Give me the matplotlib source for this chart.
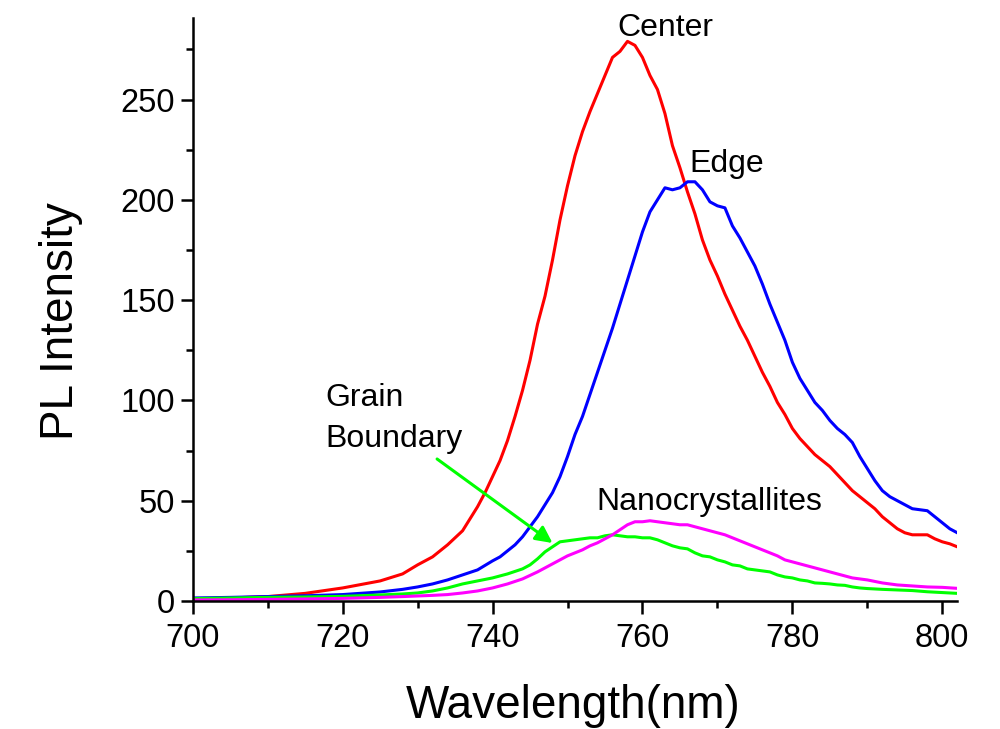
import numpy as np
import matplotlib.pyplot as plt
from matplotlib.ticker import MultipleLocator

plt.rcParams['font.family'] = ['Liberation Sans', 'DejaVu Sans']

# Center (red)
center_nm = [700, 705, 710, 715, 720, 725, 728, 730, 732, 734, 736, 738, 739, 740, 741,
             742, 743, 744, 745, 746, 747, 748, 749, 750, 751, 752, 753, 754, 755, 756,
             757, 758, 759, 760, 761, 762, 763, 764, 765, 766, 767, 768, 769, 770, 771,
             772, 773, 774, 775, 776, 777, 778, 779, 780, 781, 782, 783, 784, 785, 786,
             787, 788, 789, 790, 791, 792, 793, 794, 795, 796, 797, 798, 799, 800, 801, 802]
center_pl = [1, 1.5, 2.2, 3.8, 6.5, 10, 13.5, 18, 22, 28, 35, 47, 54, 62, 70,
             80, 92, 105, 120, 138, 152, 170, 190, 207, 222, 234, 244, 253, 262, 271,
             274, 279, 277, 271, 262, 255, 243, 227, 216, 204, 193, 180, 170, 162, 153,
             145, 137, 130, 122, 114, 107, 99, 93, 86, 81, 77, 73, 70, 67, 63,
             59, 55, 52, 49, 46, 42, 39, 36, 34, 33, 33, 33, 31, 29.5, 28.5, 27]

# Edge (blue)
edge_nm = [700, 705, 710, 715, 720, 725, 728, 730, 732, 734, 736, 738, 740, 741, 742,
           743, 744, 745, 746, 747, 748, 749, 750, 751, 752, 753, 754, 755, 756, 757,
           758, 759, 760, 761, 762, 763, 764, 765, 766, 767, 768, 769, 770, 771, 772,
           773, 774, 775, 776, 777, 778, 779, 780, 781, 782, 783, 784, 785, 786, 787,
           788, 789, 790, 791, 792, 793, 794, 795, 796, 797, 798, 799, 800, 801, 802]
edge_pl = [1.5, 1.8, 2.2, 2.6, 3.2, 4.5, 5.8, 7, 8.5, 10.5, 13, 15.5, 20, 22, 25,
           28, 32, 37, 42, 48, 54, 62, 72, 83, 92, 103, 114, 125, 136, 148,
           160, 172, 184, 194, 200, 206, 205, 206, 209, 209, 205, 199, 197, 196, 187,
           181, 174, 167, 158, 148, 139, 130, 119, 111, 105, 99, 95, 90, 86, 83,
           79, 72, 66, 60, 55, 52, 50, 48, 46, 45.5, 45, 42, 39, 36, 34]

# Grain boundary (green)
grain_nm = [700, 705, 710, 715, 720, 725, 728, 730, 732, 734, 736, 738, 740, 742, 744,
            745, 746, 747, 748, 749, 750, 751, 752, 753, 754, 755, 756, 757, 758, 759,
            760, 761, 762, 763, 764, 765, 766, 767, 768, 769, 770, 771, 772, 773, 774,
            775, 776, 777, 778, 779, 780, 781, 782, 783, 784, 785, 786, 787, 788, 789,
            790, 792, 794, 796, 798, 800, 802]
grain_pl = [1.2, 1.5, 1.8, 2, 2.3, 3, 3.5, 4, 5, 6.5, 8.5, 10, 11.5, 13.5, 16,
            18, 21, 24.5, 27, 29.5, 30, 30.5, 31, 31.5, 31.5, 32.5, 33, 32.5, 32, 32,
            31.5, 31.5, 30.5, 29, 27.5, 26.5, 26, 24, 22.5, 22, 20.5, 19.5, 18, 17.5, 16,
            15.5, 15, 14.5, 13, 12, 11.5, 10.5, 10, 9, 8.8, 8.5, 8, 7.8, 7, 6.5,
            6.2, 5.8, 5.5, 5.2, 4.6, 4.2, 3.8]

# Nanocrystallites (magenta)
nano_nm = [700, 705, 710, 715, 720, 725, 728, 730, 732, 734, 736, 738, 740, 742, 744,
           746, 747, 748, 749, 750, 751, 752, 753, 754, 755, 756, 757, 758, 759, 760,
           761, 762, 763, 764, 765, 766, 767, 768, 769, 770, 771, 772, 773, 774, 775,
           776, 777, 778, 779, 780, 781, 782, 783, 784, 785, 786, 787, 788, 789, 790,
           792, 794, 796, 798, 800, 802]
nano_pl = [0.5, 0.6, 0.8, 1, 1.3, 1.8, 2.2, 2.5, 2.8, 3.2, 4, 5, 6.5, 8.5, 11,
           14.5, 16.5, 18.5, 20.5, 22.5, 24, 25.5, 27.5, 29, 31, 33, 35.5, 38, 39.5, 39.5,
           40, 39.5, 39, 38.5, 38, 38, 37, 36, 35, 34, 33, 31.5, 30, 28.5, 27,
           25.5, 24, 22.5, 20.5, 19.5, 18.5, 17.5, 16.5, 15.5, 14.5, 13.5, 12.5, 11.5, 11, 10.5,
           9, 8, 7.5, 7, 6.8, 6.3]

fig = plt.figure(figsize=(10, 7.29), dpi=100)
ax = fig.add_axes([0.1927, 0.1756, 0.7646, 0.7993])

lw = 2.2
ax.plot(center_nm, center_pl, color='#ff0000', lw=lw)
ax.plot(edge_nm, edge_pl, color='#0000ff', lw=lw)
ax.plot(grain_nm, grain_pl, color='#00ff00', lw=lw)
ax.plot(nano_nm, nano_pl, color='#ff00ff', lw=lw)

ax.set_xlim(700, 802)
ax.set_ylim(0, 290.5)

ax.xaxis.set_major_locator(MultipleLocator(20))
ax.xaxis.set_minor_locator(MultipleLocator(10))
ax.yaxis.set_major_locator(MultipleLocator(50))
ax.yaxis.set_minor_locator(MultipleLocator(25))

for s in ['top', 'right']:
    ax.spines[s].set_visible(False)
for s in ['left', 'bottom']:
    ax.spines[s].set_linewidth(1.8)

ax.tick_params(which='major', direction='out', length=9, width=1.8, labelsize=23.5)
ax.tick_params(which='minor', direction='out', length=5, width=1.8)
ax.tick_params(axis='x', which='major', pad=7)
ax.tick_params(axis='y', which='major', pad=4)

ax.set_xlabel('Wavelength(nm)', fontsize=33)
ax.set_ylabel('PL Intensity', fontsize=33)
ax.xaxis.set_label_coords(0.498, -0.142)
ax.yaxis.set_label_coords(-0.144, 0.481)

fs = 23
ax.text(756.6, 281.7, 'Center', fontsize=fs, va='baseline')
ax.text(766.2, 213.9, 'Edge', fontsize=fs, va='baseline')
ax.text(753.9, 45.4, 'Nanocrystallites', fontsize=fs, va='baseline')
ax.text(717.7, 97.2, 'Grain', fontsize=fs, va='baseline')
ax.text(717.7, 76.8, 'Boundary', fontsize=fs, va='baseline')

ax.annotate('', xy=(748.0, 28.9), xytext=(732.6, 70.8),
            arrowprops=dict(arrowstyle='-|>', color='#00ff00', lw=2.2,
                            mutation_scale=25, shrinkA=0, shrinkB=0))

fig.savefig('out.png', dpi=100)
